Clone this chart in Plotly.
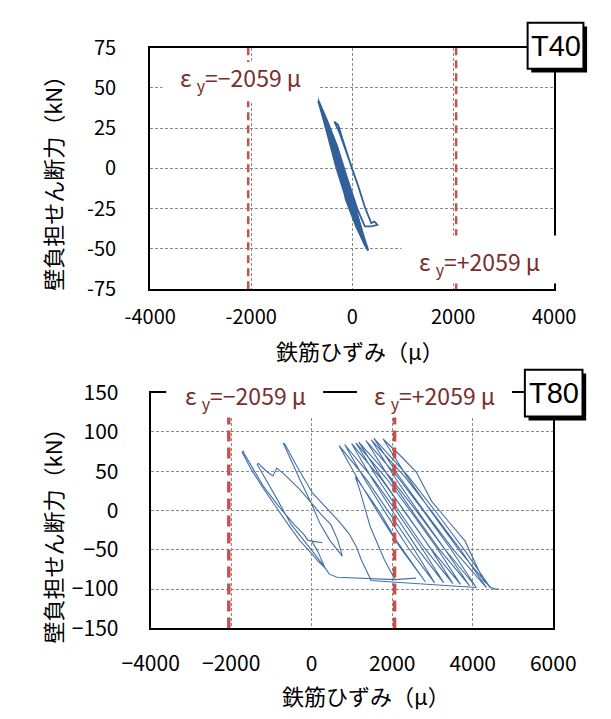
import plotly.graph_objects as go

# ---------------- data ----------------
# T40 panel: rebar strain (micro) vs wall shear (kN)
t40_strain = [0, -120, -250, -354, -320, -276, -200, -123, -4, 120, 250, 378, 440, 499, 380, 250, 100, -100, -300, -500,
              -680, -540, -360, -160, 0, 150, 300,
              240, 80, -100, -310, -480, -660,
              -525, -360, -190, -20, 140, 290,
              245, 60, -110, -280, -470, -670,
              -535, -385, -220, -45, 125, 310,
              250, 70, -90, -265, -450, -650,
              -515, -395, -250, -70, 110, 320,
              260, 90, -70, -295, -480, -690,
              -550, -370, -175, -10, 145, 295,
              235, 40, -130, -250, -440, -675,
              -540, -375, -205, -30, 135, 305,
              245, 75, -95, -300, -475, -655,
              -520, -385, -235, -60, 115, 315,
              255, 85, -80, -270, -460, -685,
              -540, -370, -165, -5, 150, 300, 200]
t40_shear = [0, 10, 22, 29, 28, 27, 19, 11, 0, -11, -24, -34, -33, -35, -36, -36, -25, -6, 14, 30,
             43, 31, 15, 0, -17, -33, -50,
             -47, -36, -21, 0, 20, 41,
             29, 14, -1, -18, -34, -49,
             -47, -34, -20, 0, 20, 42,
             30, 15, 0, -17, -33, -50,
             -47, -35, -20, 0, 19, 40,
             28, 15, 0, -18, -35, -51,
             -48, -37, -21, -1, 21, 44,
             32, 16, 0, -17, -33, -49,
             -46, -33, -19, -1, 18, 42,
             30, 14, 0, -18, -34, -50,
             -47, -36, -21, 0, 20, 40,
             28, 14, 0, -18, -34, -51,
             -48, -36, -20, -1, 19, 43,
             31, 15, 0, -17, -33, -50, -43]

# T80 panel, first loading branch group (left loops)
t80_a_strain = [330, 150, 0, -300, -584, -900, -1200, -1500, -1700, -1727, -1700, -1682, -1455, -1189, -800, -432,
                -200, -90, 265, 0, 150, 280, 330, 100, -200, -507, -900, -1200, -1355, -1320, -1250, -1100, -962,
                -871, -697, -280, 250, 477, 650, 760, 450, 200, -16, -300, -550, -707, -659, -500, -356, 23, 250,
                477, 700, 932, 1100, 1234, 1380, 1477, 2000, 3000, 3955, 4100]
t80_a_shear = [-73, -64, -55, -38, -18, 5, 28, 52, 70, 74, 76, 73, 53, 30, 4, -18,
               -30, -38, -41, -39, -52, -66, -73, -57, -38, -18, 18, 44, 59, 60, 56, 49, 44,
               54, 47, 26, -6, -18, -38, -58, -38, -16, 10, 40, 68, 86, 84, 68, 55, 22, 10,
               -2, -15, -30, -45, -63, -79, -89, -91, -94, -97.5, -98]

# T80 panel, second branch group (bottom run and right loops)
t80_b_strain = [330, 439, 629, 1386, 2068, 2590, 2350, 2068, 1800, 1450, 1200, 1083, 1300, 1689, 2100, 2500, 2826,
                2204, 1668, 1154, 682,
                1370, 1962, 2531, 3053,
                2405, 1846, 1310, 818,
                1532, 2147, 2738, 3280,
                2617, 2045, 1496, 993,
                1722, 2351, 2954, 3507,
                2809, 2207, 1630, 1100,
                1853, 2502, 3126, 3697,
                2964, 2332, 1726, 1170,
                1969, 2657, 3318, 3924,
                3177, 2533, 1915, 1348,
                2139, 2821, 3476, 4076,
                3323, 2674, 2051, 1480,
                2310, 3025, 3712, 4341,
                3529, 2829, 2157, 1541,
                2385, 3112, 3810, 4450,
                3674, 3004, 2362, 1773,
                2200, 2598, 2977, 3400, 3811, 4265, 4450, 4568, 4650]
t80_b_shear = [-73, -81, -85, -87, -88, -86, -87, -88, -62, -20, 25, 43, 27, -2, -38, -68, -91,
               -47.6, -4.3, 39.1, 82.5,
               38.9, -4.8, -48.4, -92,
               -48, -4, 40, 84,
               40, -4, -48, -92,
               -47.8, -3.5, 40.8, 85,
               40.5, -4, -48.5, -93,
               -48.3, -3.5, 41.3, 86,
               41, -4, -49, -94,
               -48.8, -3.5, 41.8, 87,
               41.3, -4.5, -50.3, -96,
               -49.8, -3.5, 42.8, 89,
               42.5, -4, -50.5, -97,
               -50.3, -3.5, 43.3, 90,
               43, -4, -51, -98,
               -50.5, -3, 44.5, 92,
               44.3, -3.5, -51.3, -99,
               -51.5, -4, 43.5, 91,
               70, 49, 12, -14, -39, -89, -98, -100, -100]

yield_strain = 2059
t40_range_x = [-4000, 4000]
t40_range_y = [-75, 75]
t80_range_x = [-4000, 6000]
t80_range_y = [-150, 150]
t40_xticks = [-4000, -2000, 0, 2000, 4000]
t40_xticktext = ["-4000", "-2000", "0", "2000", "4000"]
t40_yticks = [-75, -50, -25, 0, 25, 50, 75]
t40_yticktext = ["-75", "-50", "-25", "0", "25", "50", "75"]
t80_xticks = [-4000, -2000, 0, 2000, 4000, 6000]
t80_xticktext = ["\u22124000", "\u22122000", "0", "2000", "4000", "6000"]
t80_yticks = [-150, -100, -50, 0, 50, 100, 150]
t80_yticktext = ["\u2212150", "\u2212100", "\u221250", "0", "50", "100", "150"]

# ---------------- figure ----------------
W, H = 611, 719
JP = "Noto Sans CJK JP"
BLUE = "#34609A"
BLUE2 = "#4470A8"
RED = "#CB4F4B"
LABEL = "#7A2F2F"
GRID = "#8a8a8a"


def px(x):
    return x / W


def py(y):
    return 1 - y / H


fig = go.Figure()

fig.add_trace(go.Scatter(x=t40_strain, y=t40_shear, mode="lines",
                         line=dict(color=BLUE, width=1.8), xaxis="x", yaxis="y", showlegend=False))
fig.add_trace(go.Scatter(x=t80_a_strain, y=t80_a_shear, mode="lines",
                         line=dict(color=BLUE2, width=1.1), xaxis="x2", yaxis="y2", showlegend=False))
fig.add_trace(go.Scatter(x=t80_b_strain, y=t80_b_shear, mode="lines",
                         line=dict(color=BLUE2, width=1.1), xaxis="x2", yaxis="y2", showlegend=False))

for s in (-yield_strain, yield_strain):
    fig.add_trace(go.Scatter(x=[s, s], y=t40_range_y, mode="lines",
                             line=dict(color=RED, width=2.5, dash="8px,5px"),
                             xaxis="x", yaxis="y", showlegend=False))
    fig.add_trace(go.Scatter(x=[s, s], y=t80_range_y, mode="lines",
                             line=dict(color=RED, width=3.5, dash="11px,6px"),
                             xaxis="x2", yaxis="y2", showlegend=False))

axis_common = dict(showline=True, linecolor="black", linewidth=2, mirror=True,
                   showgrid=True, gridcolor=GRID, gridwidth=1, griddash="3px,2px",
                   zeroline=False, ticks="", tickmode="array")

fig.update_layout(
    width=W, height=H,
    margin=dict(l=0, r=0, t=0, b=0),
    paper_bgcolor="white", plot_bgcolor="white",
    font=dict(family=JP, color="black"),
    xaxis=dict(axis_common, domain=[px(132.5), px(574)], anchor="y", range=t40_range_x,
               tickvals=t40_xticks, ticktext=t40_xticktext, tickfont=dict(size=20, family=JP),
               ticklabelstandoff=9),
    yaxis=dict(axis_common, domain=[py(284), py(32)], anchor="x", range=t40_range_y,
               tickvals=t40_yticks, ticktext=t40_yticktext, tickfont=dict(size=20, family=JP),
               ticklabelstandoff=28),
    xaxis2=dict(axis_common, domain=[px(133), px(573)], anchor="y2", range=t80_range_x,
                tickvals=t80_xticks, ticktext=t80_xticktext, tickfont=dict(size=21, family=JP),
                ticklabelstandoff=15),
    yaxis2=dict(axis_common, domain=[py(638), py(392)], anchor="x2", range=t80_range_y,
                tickvals=t80_yticks, ticktext=t80_yticktext, tickfont=dict(size=21, family=JP),
                ticklabelstandoff=26),
)

shapes = []
# white label backgrounds
for (x0, x1, y0, y1) in [(146, 316, 47, 88), (407, 584, 228, 278), (150, 321.5, 372, 418), (358.5, 528, 372, 418)]:
    shapes.append(dict(type="rect", xref="paper", yref="paper", x0=px(x0), x1=px(x1), y0=py(y1), y1=py(y0),
                       fillcolor="white", line=dict(width=0), layer="above"))
# panel tag boxes with shadow
for (x0, x1, y0, y1) in [(545, 606, 6, 54), (542, 605, 368, 417)]:
    shapes.append(dict(type="rect", xref="paper", yref="paper", x0=px(x0 + 4), x1=px(x1 + 4), y0=py(y1 + 4),
                       y1=py(y0 + 4), fillcolor="black", line=dict(width=0), layer="above"))
    shapes.append(dict(type="rect", xref="paper", yref="paper", x0=px(x0), x1=px(x1), y0=py(y1), y1=py(y0),
                       fillcolor="white", line=dict(color="black", width=2), layer="above"))
fig.update_layout(shapes=shapes)

ann = []


def add_text(text, x, y, size, color="black", family=JP, angle=0):
    ann.append(dict(text=text, x=px(x), y=py(y), xref="paper", yref="paper", showarrow=False,
                    xanchor="center", yanchor="middle", textangle=angle,
                    font=dict(size=size, color=color, family=family)))


add_text("ε <sub>y</sub>=\u22122059 μ", 231, 64, 23, LABEL)
add_text("ε <sub>y</sub>=+2059 μ", 492, 256, 23, LABEL)
add_text("ε <sub>y</sub>=\u22122059 μ", 237, 396, 23, LABEL)
add_text("ε <sub>y</sub>=+2059 μ", 443, 396, 23, LABEL)
add_text("T40", 575.5, 30, 29, family="Liberation Sans")
add_text("T80", 573.5, 392.5, 29, family="Liberation Sans")
add_text("壁負担せん断力（kN）", 25, 168, 22, angle=-90)
add_text("壁負担せん断力（kN）", 25, 536, 22, angle=-90)
add_text("鉄筋ひずみ（μ）", 362, 347, 22)
add_text("鉄筋ひずみ（μ）", 368, 707, 22)
fig.update_layout(annotations=ann)

fig.write_html("out.html")
